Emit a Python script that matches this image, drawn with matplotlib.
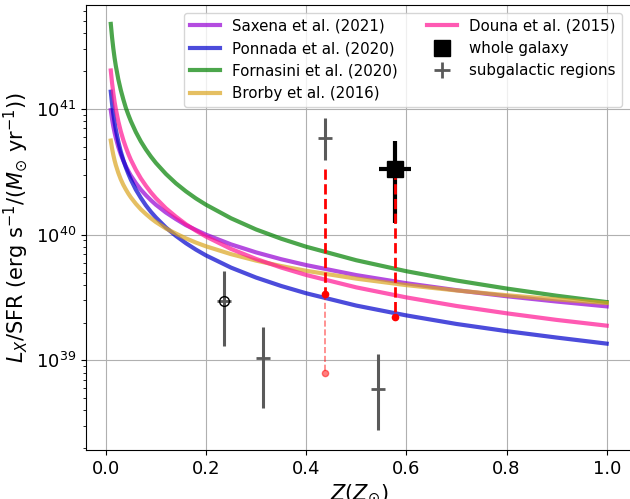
import matplotlib
matplotlib.use('Agg')
import matplotlib.pyplot as plt
from matplotlib.lines import Line2D
import numpy as np

# metallicity grid (Z / Zsun)
Z = [0.01, 0.0125, 0.015, 0.0175, 0.02, 0.025, 0.03, 0.035, 0.04, 0.045, 0.05,
     0.06, 0.07, 0.08, 0.09, 0.1, 0.12, 0.14, 0.16, 0.18, 0.2,
     0.25, 0.3, 0.35, 0.4, 0.5, 0.6, 0.7, 0.8, 0.9, 1.0]

saxena = [9.77e40, 8.31e40, 7.27e40, 6.49e40, 5.88e40, 4.98e40, 4.34e40, 3.87e40, 3.50e40, 3.20e40, 2.95e40,
          2.57e40, 2.28e40, 2.06e40, 1.88e40, 1.73e40, 1.50e40, 1.33e40, 1.19e40, 1.09e40, 1.00e40,
          8.37e39, 7.23e39, 6.38e39, 5.73e39, 4.77e39, 4.11e39, 3.62e39, 3.24e39, 2.94e39, 2.69e39]
ponnada = [1.37e41, 1.10e41, 9.15e40, 7.85e40, 6.86e40, 5.49e40, 4.57e40, 3.92e40, 3.43e40, 3.05e40, 2.74e40,
           2.28e40, 1.96e40, 1.71e40, 1.52e40, 1.37e40, 1.14e40, 9.78e39, 8.55e39, 7.60e39, 6.84e39,
           5.47e39, 4.56e39, 3.91e39, 3.42e39, 2.73e39, 2.28e39, 1.95e39, 1.71e39, 1.52e39, 1.36e39]
fornasini = [4.74e41, 3.71e41, 3.03e41, 2.55e41, 2.20e41, 1.72e41, 1.41e41, 1.19e41, 1.02e41, 8.99e40, 8.00e40,
             6.54e40, 5.51e40, 4.76e40, 4.18e40, 3.72e40, 3.04e40, 2.56e40, 2.21e40, 1.94e40, 1.73e40,
             1.35e40, 1.10e40, 9.29e39, 8.02e39, 6.26e39, 5.12e39, 4.32e39, 3.73e39, 3.27e39, 2.91e39]
brorby = [5.60e40, 4.85e40, 4.31e40, 3.90e40, 3.58e40, 3.10e40, 2.75e40, 2.49e40, 2.29e40, 2.12e40, 1.98e40,
          1.76e40, 1.59e40, 1.46e40, 1.35e40, 1.26e40, 1.12e40, 1.02e40, 9.34e39, 8.65e39, 8.08e39,
          7.00e39, 6.22e39, 5.63e39, 5.16e39, 4.47e39, 3.97e39, 3.60e39, 3.30e39, 3.06e39, 2.86e39]
douna = [2.02e41, 1.61e41, 1.34e41, 1.14e41, 9.99e40, 7.96e40, 6.62e40, 5.66e40, 4.95e40, 4.39e40, 3.94e40,
         3.28e40, 2.80e40, 2.45e40, 2.17e40, 1.95e40, 1.62e40, 1.39e40, 1.21e40, 1.075e40, 9.66e39,
         7.70e39, 6.41e39, 5.48e39, 4.78e39, 3.81e39, 3.17e39, 2.71e39, 2.37e39, 2.10e39, 1.89e39]

model_labels = ['Saxena et al. (2021)', 'Ponnada et al. (2020)', 'Fornasini et al. (2020)',
                'Brorby et al. (2016)', 'Douna et al. (2015)']
model_colors = ['darkviolet', 'mediumblue', 'green', 'goldenrod', 'deeppink']

# subgalactic regions
sub_Z = [0.236, 0.314, 0.437, 0.543]
sub_val = [2.96e39, 1.04e39, 5.9e40, 5.96e38]
sub_lo = [1.31e39, 4.2e38, 3.95e40, 2.8e38]
sub_hi = [5.1e39, 1.86e39, 8.4e40, 1.13e39]
circled_Z = [0.236]
circled_val = [2.96e39]

# whole galaxy
gal_Z = [0.577]
gal_val = [3.35e40]
gal_lo = [1.24e40]
gal_hi = [5.52e40]
gal_xerr = [0.0325]

# red dashed drops
drop_Z = [0.437, 0.577]
drop_top = [3.35e40, 3.35e40]
drop_bot = [3.37e39, 2.23e39]
faint_Z = [0.437]
faint_top = [3.37e39]
faint_bot = [7.94e38]

fig = plt.figure(figsize=(6.3, 4.99), dpi=100)
ax = fig.add_axes([86/630, 1 - 450/499, (631.5 - 86)/630, (450 - 5)/499])

series = [saxena, ponnada, fornasini, brorby, douna]
for vals, c, lab in zip(series, model_colors, model_labels):
    ax.plot(Z, vals, color=c, alpha=0.7, lw=3, label=lab)

# red drops
for z, t, b in zip(drop_Z, drop_top, drop_bot):
    ax.plot([z, z], [t, b], color='red', ls='--', lw=2, zorder=5)
    ax.plot([z], [b], 'o', color='red', ms=4.5, zorder=5)
for z, t, b in zip(faint_Z, faint_top, faint_bot):
    ax.plot([z, z], [t, b], color='red', ls='--', lw=1.2, alpha=0.5, zorder=5)
    ax.plot([z], [b], 'o', color='red', ms=4.5, alpha=0.5, zorder=5)

# subgalactic
sub_err = [np.array(sub_val) - np.array(sub_lo), np.array(sub_hi) - np.array(sub_val)]
ax.errorbar(sub_Z, sub_val, yerr=sub_err, fmt='+', color='#5a5a5a', ms=9.5, mew=2,
            elinewidth=2.2, capsize=0, zorder=4)
ax.plot(circled_Z, circled_val, 'o', mfc='none', mec='k', ms=7, mew=1, zorder=6)

# whole galaxy
gal_err = [np.array(gal_val) - np.array(gal_lo), np.array(gal_hi) - np.array(gal_val)]
ax.errorbar(gal_Z, gal_val, yerr=gal_err, xerr=gal_xerr, fmt='none', ecolor='k',
            elinewidth=3, capsize=0, zorder=4)
ax.plot(gal_Z, gal_val, 's', color='k', ms=11, zorder=7)

ax.set_yscale('log')
ax.set_xlim(-0.0395, 1.0495)
ax.set_ylim(1.94e38, 6.7e41)
ax.grid(True, which='major')
ax.tick_params(labelsize=13)
ax.set_xticks([0.0, 0.2, 0.4, 0.6, 0.8, 1.0])
ax.set_yticks([1e39, 1e40, 1e41])
ax.set_xlabel(r'$Z(Z_{\odot})$', fontsize=15)
ax.set_ylabel(r'$L_X$/SFR (erg s$^{-1}$/($M_{\odot}$ yr$^{-1}$))', fontsize=15)

handles = [Line2D([], [], color=c, alpha=0.7, lw=3) for c in model_colors[:4]]
handles += [Line2D([], [], color=model_colors[4], alpha=0.7, lw=3),
            Line2D([], [], marker='s', color='k', ls='none', ms=11),
            Line2D([], [], marker='+', color='#5a5a5a', ls='none', ms=11, mew=2)]
labels = model_labels[:4] + [model_labels[4], 'whole galaxy', 'subgalactic regions']
ax.legend(handles, labels, ncol=2, loc='upper right', fontsize=10.8,
          bbox_to_anchor=(0.996, 1.0))

fig.savefig('out.png', dpi=100)
